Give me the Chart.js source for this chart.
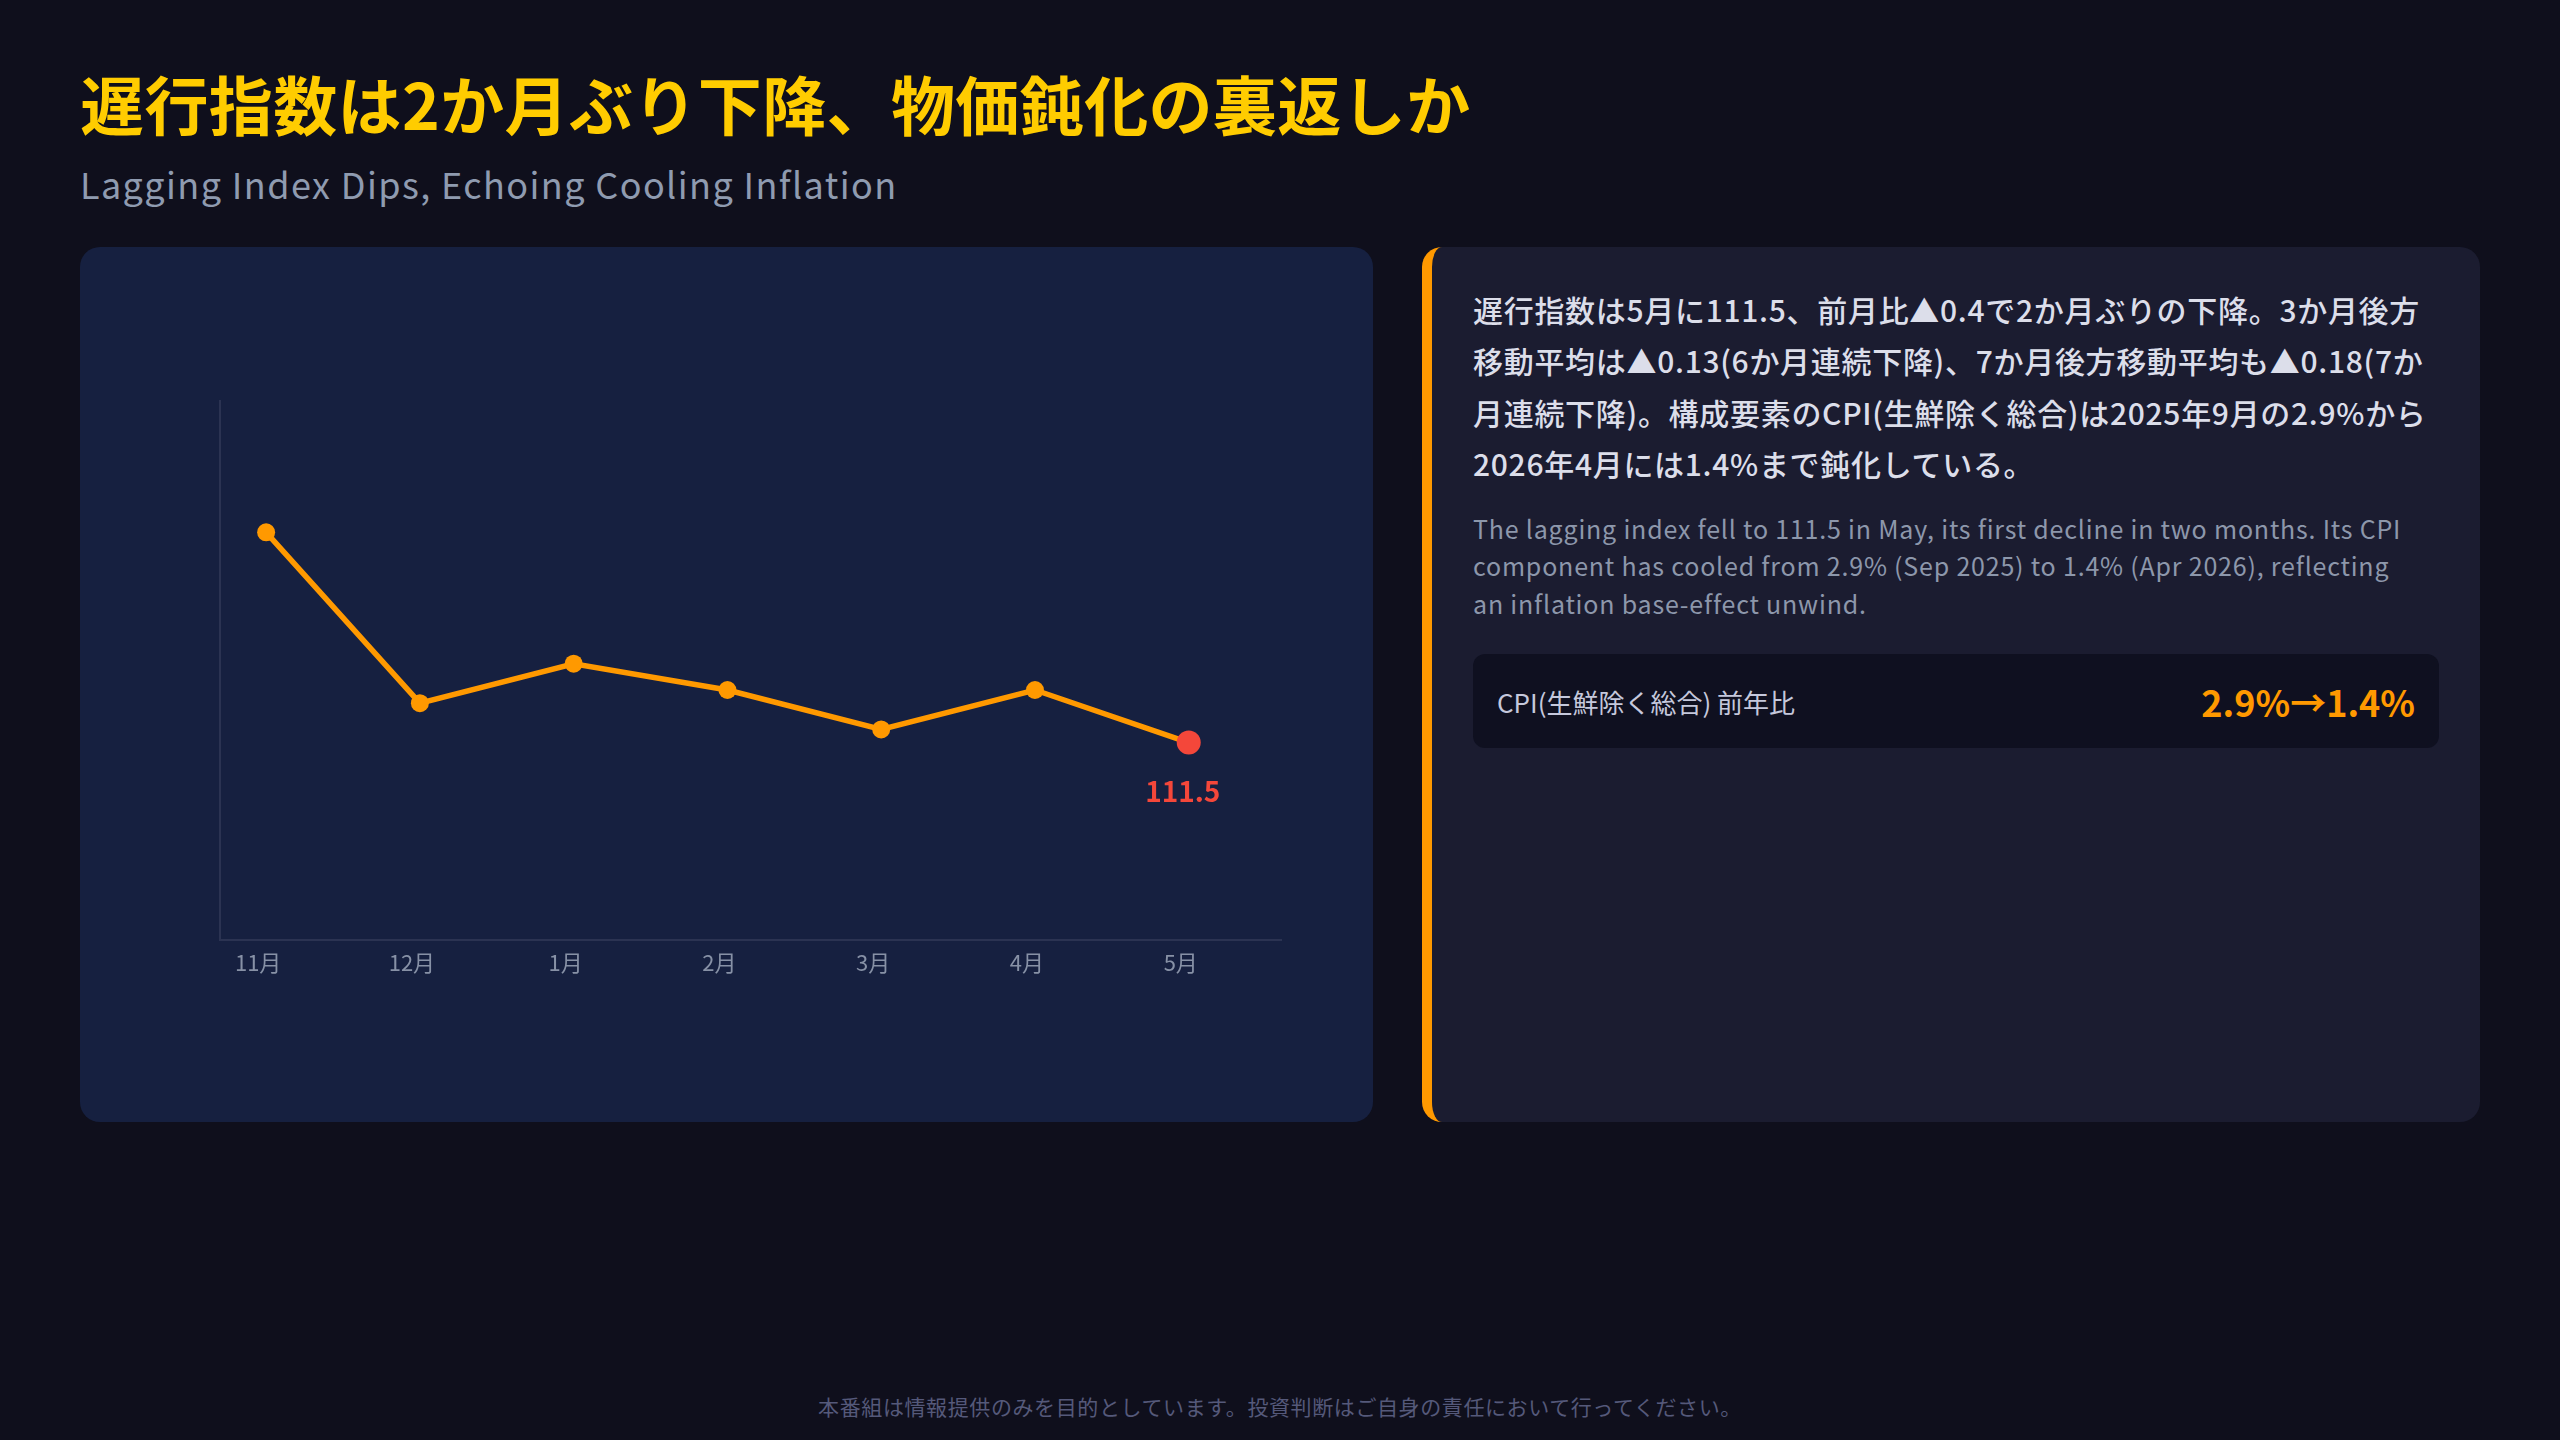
<!DOCTYPE html>
<html lang="ja">
<head>
<meta charset="utf-8">
<title>遅行指数</title>
<script src="https://cdn.jsdelivr.net/npm/chart.js@4/dist/chart.umd.min.js"></script>
<style>
  html, body { margin: 0; padding: 0; }
  body {
    width: 2560px; height: 1440px; position: relative; overflow: hidden;
    background: #0f0f1c;
    font-family: "Noto Sans CJK JP", "Noto Sans", sans-serif;
  }
  .title {
    position: absolute; left: 80px; top: 64px;
    font-size: 64px; line-height: 76px; font-weight: 700; color: #ffcc00;
    letter-spacing: 0.4px;
  }
  .sub {
    position: absolute; left: 80px; top: 161px;
    font-size: 36px; line-height: 44px; color: #8f9bb0; letter-spacing: 1.4px;
  }
  .chartCard {
    position: absolute; left: 80px; top: 247px; width: 1293px; height: 875px;
    background: #162040; border-radius: 20px; overflow: hidden;
  }
  .chartCard canvas { position: absolute; left: 0; top: 0; }
  .textCard {
    position: absolute; left: 1422px; top: 247px; width: 1048px; height: 875px;
    background: #1b1c30; border-left: 10px solid #ff9900; border-radius: 20px;
    box-sizing: content-box;
  }
  .inner { position: absolute; left: 41px; top: 37px; width: 966px; }
  .ja { font-size: 30px; line-height: 51.4px; font-weight: 500; color: #dcdeea; margin: 0; letter-spacing: 0.7px; }
  .en { font-size: 25px; line-height: 37.6px; color: #8d97ab; margin: 20px 0 0 0; letter-spacing: 0.8px; width: 945px; }
  .stat {
    margin-top: 32px; height: 94px; background: #0f1020; border-radius: 12px;
    display: flex; align-items: center; justify-content: space-between;
    padding: 0 24px;
  }
  .stat .lbl { font-size: 26px; color: #c5c8dc; }
  .stat .val { font-size: 36px; font-weight: 700; color: #ff9900; }
  .foot {
    position: absolute; left: 0; width: 2560px; top: 1392px; text-align: center;
    font-size: 21px; line-height: 28px; color: #55597a; letter-spacing: 0.6px;
  }
</style>
</head>
<body>
<div class="title">遅行指数は2か月ぶり下降、物価鈍化の裏返しか</div>
<div class="sub">Lagging Index Dips, Echoing Cooling Inflation</div>

<div class="chartCard">
  <canvas id="myChart" width="1293" height="875"></canvas>
</div>

<div class="textCard">
  <div class="inner">
    <p class="ja">遅行指数は5月に111.5、前月比▲0.4で2か月ぶりの下降。3か月後方移動平均は▲0.13(6か月連続下降)、7か月後方移動平均も▲0.18(7か月連続下降)。構成要素のCPI(生鮮除く総合)は2025年9月の2.9%から2026年4月には1.4%まで鈍化している。</p>
    <p class="en">The lagging index fell to 111.5 in May, its first decline in two months. Its CPI component has cooled from 2.9% (Sep 2025) to 1.4% (Apr 2026), reflecting an inflation base-effect unwind.</p>
    <div class="stat">
      <span class="lbl">CPI(生鮮除く総合) 前年比</span>
      <span class="val">2.9%→1.4%</span>
    </div>
  </div>
</div>

<div class="foot">本番組は情報提供のみを目的としています。投資判断はご自身の責任において行ってください。</div>

<script>
// data
var months = ["11月", "12月", "1月", "2月", "3月", "4月", "5月"];
var laggingIndex = [113.1, 111.8, 112.1, 111.9, 111.6, 111.9, 111.5];
var yMin = 110;
var yMax = 114.1;

var orange = "#ff9900";
var red = "#f4473a";
var last = laggingIndex.length - 1;

Chart.defaults.font.family = "'Noto Sans CJK JP', 'Noto Sans', sans-serif";

// label for the latest value, under the red dot
var lastLabel = {
  id: "lastLabel",
  afterDatasetsDraw: function(chart) {
    var pt = chart.getDatasetMeta(0).data[last];
    var ctx = chart.ctx;
    ctx.save();
    ctx.fillStyle = red;
    ctx.font = "700 28px 'Noto Sans CJK JP', sans-serif";
    ctx.textAlign = "center";
    ctx.textBaseline = "middle";
    ctx.fillText(laggingIndex[last].toFixed(1), pt.x - 6, pt.y + 49);
    ctx.restore();
  }
};

var ctx = document.getElementById("myChart").getContext("2d");
var myChart = new Chart(ctx, {
  type: "line",
  data: {
    datasets: [{
      data: laggingIndex.map(function(v, i) { return {x: i, y: v}; }),
      borderColor: orange,
      borderWidth: 5.5,
      pointRadius: laggingIndex.map(function(v, i) { return i === last ? 12 : 9; }),
      pointBackgroundColor: laggingIndex.map(function(v, i) { return i === last ? red : orange; }),
      pointBorderWidth: 0,
      tension: 0,
      fill: false
    }]
  },
  options: {
    responsive: false,
    animation: false,
    layout: { padding: { left: 140, top: 154, right: 92, bottom: 136 } },
    plugins: { legend: { display: false }, tooltip: { enabled: false } },
    scales: {
      x: {
        type: "linear",
        min: -0.3,
        max: 6.6,
        grid: { display: false, drawTicks: false },
        border: { display: true, color: "#2b3352", width: 2 },
        ticks: {
          stepSize: 1,
          includeBounds: false,
          autoSkip: false,
          maxRotation: 0,
          padding: 10,
          labelOffset: -8,
          color: "#8791a6",
          font: { size: 22 },
          callback: function(v) { return months[v] || ""; }
        }
      },
      y: {
        min: yMin,
        max: yMax,
        grid: { display: false, drawTicks: false },
        border: { display: true, color: "#2b3352", width: 2 },
        ticks: { display: false }
      }
    }
  },
  plugins: [lastLabel]
});
</script>
</body>
</html>
